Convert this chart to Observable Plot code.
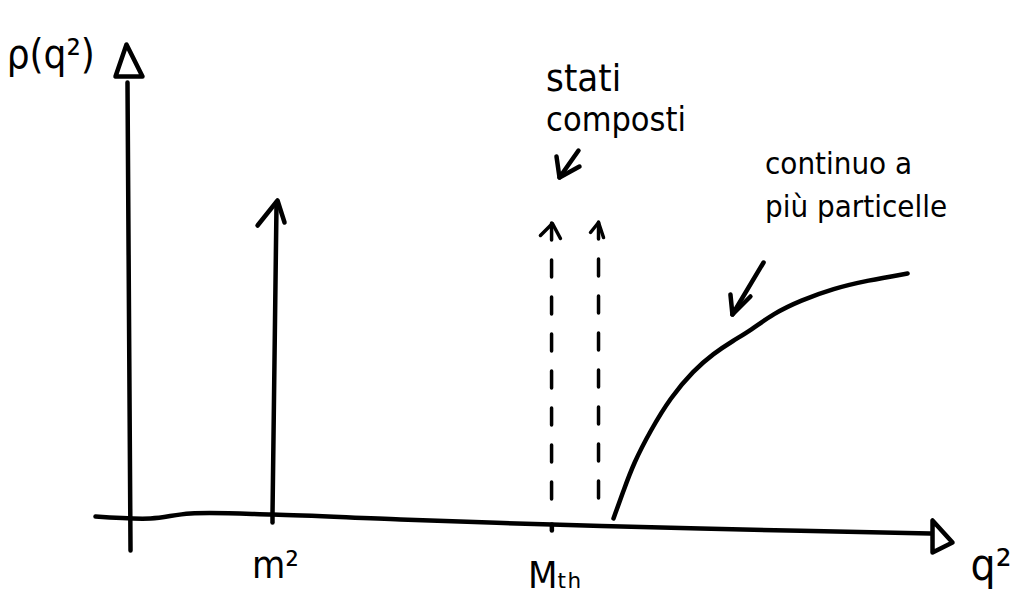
<!DOCTYPE html>
<html>
<head>
<meta charset="utf-8">
<script src="https://cdn.jsdelivr.net/npm/d3@7"></script>
<script src="https://cdn.jsdelivr.net/npm/@observablehq/plot@0.6"></script>
<style>
  html, body { margin: 0; padding: 0; background: #fff; }
  #chart svg { display: block; }
</style>
</head>
<body>
<div id="chart"></div>
<script>
// ---- data (conceptual units: q² along x, ρ(q²) along y) ----
const tickLabels = ["m²", "Mₜₕ"];
const tickQ2 = [1.0, 2.94];
const tickAxisRho = [0.01, -0.07];
const tickLabelRho = [-0.48, -0.58];

// single-particle pole (solid arrow) at q² = m²
const poleQ2 = [1.0, 1.028];
const poleRho = [0.03, 3.17];

// bound states (dashed arrows) above M_th
const boundQ2 = [2.938, 3.264];
const boundBottom = [0.12, 0.07];
const boundTop = [2.94, 2.95];

// multi-particle continuum
const continuumQ2 = [3.368, 3.438, 3.507, 3.625, 3.764, 3.924, 4.063, 4.201, 4.319, 4.479, 4.667, 4.896, 5.132, 5.410];
const continuumRho = [-0.01, 0.27, 0.54, 0.87, 1.20, 1.47, 1.64, 1.77, 1.87, 2.04, 2.17, 2.29, 2.37, 2.44];

// hand-drawn axes
const xAxisQ2 = [-0.229, 0.153, 0.431, 1.0, 1.889, 2.938, 3.972, 5.569];
const xAxisRho = [0.01, -0.01, 0.04, 0.03, -0.02, -0.07, -0.11, -0.16];
const yAxisQ2 = [-0.007, 0.014];
const yAxisRho = [4.35, -0.33];

// annotations
const annotations = [
  {text: "stati", q2: 2.90, rho: 4.39, size: 38},
  {text: "composti", q2: 2.90, rho: 3.97, size: 34},
  {text: "continuo a", q2: 4.42, rho: 3.53, size: 31},
  {text: "più particelle", q2: 4.42, rho: 3.10, size: 31}
];
const pointerArrows = [
  {q1: 3.125, r1: 3.67, q2: 2.993, r2: 3.40},
  {q1: 4.410, r1: 2.55, q2: 4.194, r2: 2.03}
];
const axisTitles = [
  {text: "ρ(q²)", q2: -0.54, rho: 4.62, size: 40},
  {text: "q²", q2: 5.99, rho: -0.48, size: 44}
];

// ---- arrowhead glyph shapes (relative pixel offsets from the tip) ----
function chevron(a, b) {
  return {draw(ctx) { ctx.moveTo(a[0], a[1]); ctx.lineTo(0, 0); ctx.lineTo(b[0], b[1]); }};
}
function polygon(pts) {
  return {draw(ctx) { ctx.moveTo(pts[0][0], pts[0][1]); for (const p of pts.slice(1)) ctx.lineTo(p[0], p[1]); ctx.closePath(); }};
}

const font = "'DejaVu Sans Condensed', 'DejaVu Sans', sans-serif";
const ink = "#000";
const sw = 4.5;

const table = (xs, ys) => xs.map((x, i) => ({x, y: ys[i]}));

const marks = [
  // axes
  Plot.line(table(xAxisQ2, xAxisRho), {x: "x", y: "y", curve: "catmull-rom", stroke: ink, strokeWidth: sw, strokeLinecap: "round"}),
  Plot.line(table(yAxisQ2, yAxisRho), {x: "x", y: "y", stroke: ink, strokeWidth: sw, strokeLinecap: "round"}),
  Plot.dot([{x: -0.014, y: 4.57}], {x: "x", y: "y", symbol: polygon([[0, -16], [-11, 16], [16, 16]]), fill: "white", stroke: ink, strokeWidth: sw, strokeLinejoin: "round"}),
  Plot.dot([{x: 5.639, y: -0.19}], {x: "x", y: "y", symbol: polygon([[-8, -16], [-8, 16], [12, 6]]), fill: "white", stroke: ink, strokeWidth: sw, strokeLinejoin: "round"}),
  // small tick nubs
  Plot.link(tickQ2.map((q, i) => ({q, y: tickAxisRho[i]})), {x1: "q", x2: "q", y1: "y", y2: d => d.y - 0.06, stroke: ink, strokeWidth: sw, strokeLinecap: "round"}),
  // pole
  Plot.link([{x1: poleQ2[0], y1: poleRho[0], x2: poleQ2[1], y2: poleRho[1] - 0.02}], {x1: "x1", y1: "y1", x2: "x2", y2: "y2", stroke: ink, strokeWidth: sw, strokeLinecap: "round"}),
  Plot.dot([{x: poleQ2[1] + 0.007, y: poleRho[1]}], {x: "x", y: "y", symbol: chevron([-20, 25], [7, 22]), fill: "none", stroke: ink, strokeWidth: sw, strokeLinecap: "round", strokeLinejoin: "round"}),
  // bound states
  Plot.ruleX(boundQ2.map((q, i) => ({q, top: boundTop[i], bottom: boundBottom[i]})), {x: "q", y1: "top", y2: "bottom", stroke: ink, strokeWidth: 3.5, strokeDasharray: "17,20", strokeLinecap: "round"}),
  Plot.dot([{x: boundQ2[0] + 0.006, y: boundTop[0]}], {x: "x", y: "y", symbol: chevron([-12, 12], [8, 15]), fill: "none", stroke: ink, strokeWidth: 3.5, strokeLinecap: "round", strokeLinejoin: "round"}),
  Plot.dot([{x: boundQ2[1], y: boundTop[1]}], {x: "x", y: "y", symbol: chevron([-8, 10], [5, 15]), fill: "none", stroke: ink, strokeWidth: 3.5, strokeLinecap: "round", strokeLinejoin: "round"}),
  // continuum
  Plot.line(table(continuumQ2, continuumRho), {x: "x", y: "y", curve: "basis", stroke: ink, strokeWidth: sw, strokeLinecap: "round"}),
  // pointer arrows
  Plot.link(pointerArrows, {x1: "q1", y1: "r1", x2: "q2", y2: "r2", stroke: ink, strokeWidth: sw, strokeLinecap: "round"}),
  Plot.dot([pointerArrows[0]], {x: "q2", y: "r2", symbol: chevron([-3, -21], [20, -11]), fill: "none", stroke: ink, strokeWidth: sw, strokeLinecap: "round", strokeLinejoin: "round"}),
  Plot.dot([pointerArrows[1]], {x: "q2", y: "r2", symbol: chevron([-2, -20], [18, -18]), fill: "none", stroke: ink, strokeWidth: sw, strokeLinecap: "round", strokeLinejoin: "round"}),
  // texts
  ...annotations.map(a => Plot.text([a], {x: "q2", y: "rho", text: "text", textAnchor: "start", fontSize: a.size, fontFamily: font, fill: ink})),
  ...axisTitles.map(a => Plot.text([a], {x: "q2", y: "rho", text: "text", textAnchor: "middle", fontSize: a.size, fontFamily: font, fill: ink})),
  Plot.text(tickLabels.map((t, i) => ({t, q: tickQ2[i] + 0.02, r: tickLabelRho[i]})), {x: "q", y: "r", text: "t", fontSize: 38, fontFamily: font, fill: ink})
];

const chart = Plot.plot({
  width: 1020,
  height: 609,
  margin: 0,
  x: {domain: [-0.8889, 6.1944], axis: null},
  y: {domain: [-0.92, 5.17], axis: null},
  style: {background: "white", overflow: "visible"},
  marks
});
document.getElementById("chart").appendChild(chart);
</script>
</body>
</html>
